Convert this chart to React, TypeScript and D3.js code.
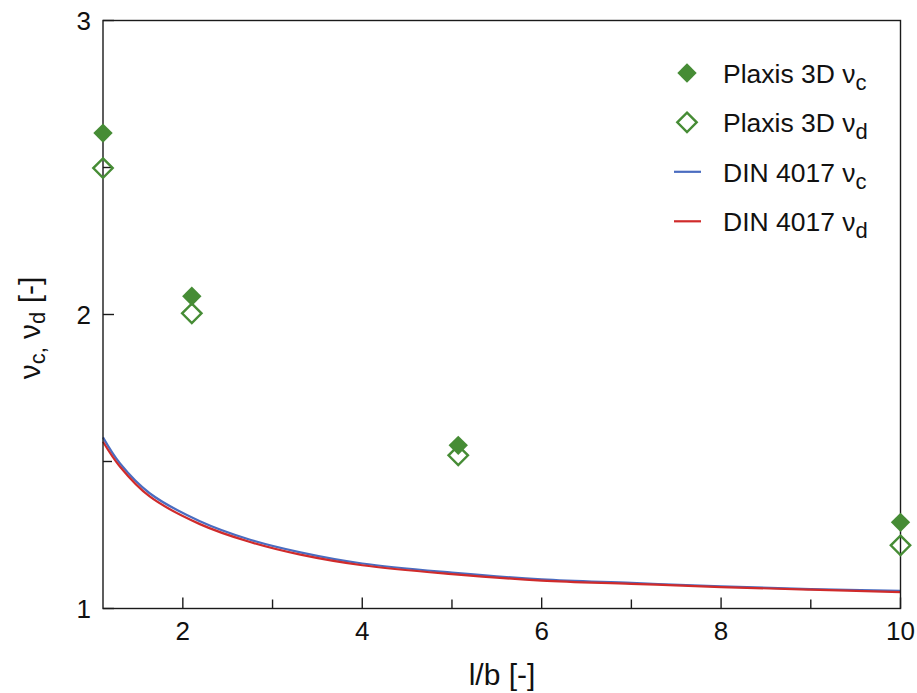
import React from "react";
import * as d3 from "d3";

// Plaxis 3D results (shape factors vs. aspect ratio)
const lbPlaxis = [1.11, 2.1, 5.07, 10];
const nuCPlaxis = [2.617, 2.062, 1.555, 1.293];
const nuDPlaxis = [2.498, 2.004, 1.521, 1.215];

// DIN 4017 shape factor curves
const lbDin = [1.11, 1.3, 1.63, 2.19, 2.75, 3.31, 4, 5, 6, 7, 8, 9, 10];
const nuCDin = [1.582, 1.493, 1.392, 1.297, 1.234, 1.191, 1.153, 1.122, 1.099, 1.087, 1.075, 1.066, 1.06];
const nuDDin = [1.567, 1.482, 1.381, 1.287, 1.226, 1.183, 1.147, 1.117, 1.095, 1.084, 1.073, 1.064, 1.056];

const xMajor = [2, 4, 6, 8, 10];
const xMinor = [3, 5, 7, 9];
const yMajor = [1, 2, 3];
const yMinor = [1.5, 2.5];

const GREEN = "#468c35";
const BLUE = "#4a6cc0";
const RED = "#d02b2b";
const FONT = "'Liberation Sans', Arial, Helvetica, sans-serif";

const W = 917;
const H = 693;
const L = 103;
const R = 900.5;
const T = 20.5;
const B = 608.5;

export default function App() {
  const x = d3.scaleLinear().domain([1.11, 10]).range([L, R]);
  const y = d3.scaleLinear().domain([1, 3]).range([B, T]);

  const diamond = d3.symbol().type(d3.symbolDiamond2).size(240)();

  const line = d3
    .line<number>()
    .x((_, i) => x(lbDin[i]))
    .curve(d3.curveCatmullRom.alpha(0.5));
  const cPath = line.y((d) => y(d))(nuCDin) as string;
  const dPath = line.y((d) => y(d))(nuDDin) as string;

  const legendRows = [
    { kind: "filled", label: "Plaxis 3D ν", sub: "c" },
    { kind: "open", label: "Plaxis 3D ν", sub: "d" },
    { kind: "blue", label: "DIN 4017 ν", sub: "c" },
    { kind: "red", label: "DIN 4017 ν", sub: "d" },
  ];
  const legendY = [73, 122.3, 171.8, 221.3];

  return (
    <svg
      width={W}
      height={H}
      style={{ position: "absolute", left: 0, top: 0, background: "#fff" }}
      fontFamily={FONT}
    >
      <rect width={W} height={H} fill="#fff" />

      {/* curves */}
      <path d={cPath} fill="none" stroke={BLUE} strokeWidth={2.2} />
      <path d={dPath} fill="none" stroke={RED} strokeWidth={2.2} />

      {/* frame */}
      <rect x={L} y={T} width={R - L} height={B - T} fill="none" stroke="#1a1a1a" strokeWidth={1.4} />

      {/* x ticks */}
      {xMajor.map((v) => (
        <g key={"xm" + v}>
          <line x1={x(v)} x2={x(v)} y1={B} y2={B - 11} stroke="#1a1a1a" strokeWidth={1.4} />
          <text x={x(v)} y={639.5} textAnchor="middle" fontSize={26} fill="#111">
            {v}
          </text>
        </g>
      ))}
      {xMinor.map((v) => (
        <line key={"xn" + v} x1={x(v)} x2={x(v)} y1={B} y2={B - 9} stroke="#1a1a1a" strokeWidth={1.4} />
      ))}

      {/* y ticks */}
      {yMajor.map((v) => (
        <g key={"ym" + v}>
          <line x1={L} x2={L + 11} y1={y(v)} y2={y(v)} stroke="#1a1a1a" strokeWidth={1.4} />
          <text x={91} y={y(v) + 9.3} textAnchor="end" fontSize={26} fill="#111">
            {v}
          </text>
        </g>
      ))}
      {yMinor.map((v) => (
        <line key={"yn" + v} x1={L} x2={L + 9} y1={y(v)} y2={y(v)} stroke="#1a1a1a" strokeWidth={1.4} />
      ))}

      {/* Plaxis markers */}
      {lbPlaxis.map((v, i) => (
        <path
          key={"po" + i}
          d={diamond}
          transform={`translate(${x(v)},${y(nuDPlaxis[i])})`}
          fill="none"
          stroke={GREEN}
          strokeWidth={2.4}
        />
      ))}
      {lbPlaxis.map((v, i) => (
        <path
          key={"pf" + i}
          d={diamond}
          transform={`translate(${x(v)},${y(nuCPlaxis[i])})`}
          fill={GREEN}
        />
      ))}

      {/* legend */}
      {legendRows.map((r, i) => {
        const cy = legendY[i];
        return (
          <g key={"lg" + i}>
            {r.kind === "filled" && <path d={diamond} transform={`translate(687,${cy})`} fill={GREEN} />}
            {r.kind === "open" && (
              <path d={diamond} transform={`translate(687,${cy})`} fill="none" stroke={GREEN} strokeWidth={2.4} />
            )}
            {r.kind === "blue" && <line x1={674} x2={701} y1={cy} y2={cy} stroke={BLUE} strokeWidth={2.2} />}
            {r.kind === "red" && <line x1={674} x2={701} y1={cy} y2={cy} stroke={RED} strokeWidth={2.2} />}
            <text x={723} y={cy + 9.7} fontSize={26.5} fill="#111">
              {r.label}
              <tspan fontSize={22} dy={7}>
                {r.sub}
              </tspan>
            </text>
          </g>
        );
      })}

      {/* axis titles */}
      <text x={502} y={685} textAnchor="middle" fontSize={30} fill="#111">
        l/b [-]
      </text>
      <text
        transform="translate(40,328) rotate(-90)"
        textAnchor="middle"
        fontSize={30}
        fill="#111"
      >
        ν
        <tspan fontSize={22} dy={5}>
          c,
        </tspan>
        <tspan dy={-5}> ν</tspan>
        <tspan fontSize={22} dy={5}>
          d
        </tspan>
        <tspan dy={-5}> [-]</tspan>
      </text>
    </svg>
  );
}
